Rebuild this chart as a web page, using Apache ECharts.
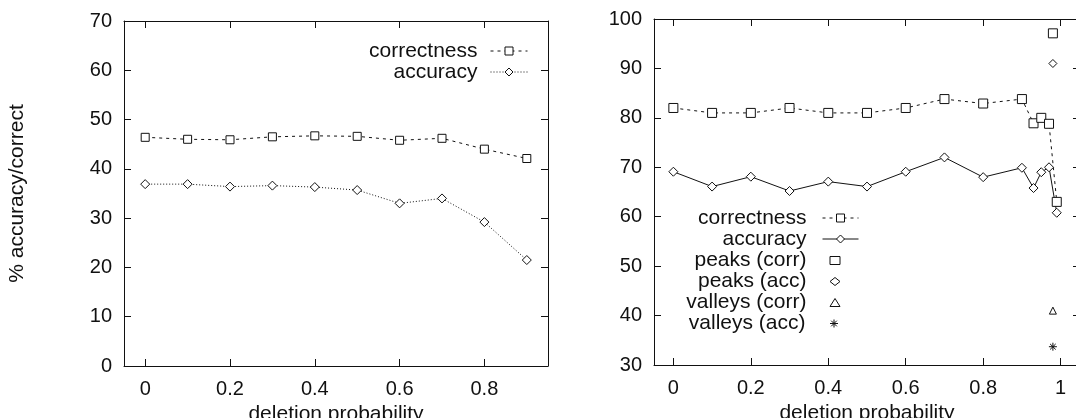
<!DOCTYPE html>
<html>
<head>
<meta charset="utf-8">
<script src="https://cdn.jsdelivr.net/npm/echarts@6/dist/echarts.min.js"></script>
<style>
  html, body { margin: 0; padding: 0; background: #fff; }
  #chart { width: 1076px; height: 418px; }
</style>
</head>
<body>
<div id="chart"></div>
<script>
// Left panel: deletion probability vs. correctness / accuracy (%)
const probLeft = [0, 0.1, 0.2, 0.3, 0.4, 0.5, 0.6, 0.7, 0.8, 0.9];
const corrLeft = [46.4, 46.0, 45.9, 46.5, 46.7, 46.6, 45.8, 46.2, 44.0, 42.1];
const accLeft  = [36.9, 36.9, 36.4, 36.6, 36.3, 35.7, 33.0, 34.0, 29.2, 21.5];

// Right panel: finer sampling near 1
const probRight = [0, 0.1, 0.2, 0.3, 0.4, 0.5, 0.6, 0.7, 0.8, 0.9, 0.93, 0.95, 0.97, 0.99];
const corrRight = [82, 81, 81, 82, 81, 81, 82, 83.8, 82.9, 83.8, 78.9, 80.0, 78.8, 63.0];
const accRight  = [69.1, 66.1, 68.1, 65.2, 67.1, 66.1, 69.1, 72.0, 68.0, 69.9, 65.8, 69.0, 70.0, 60.8];

// Peak / valley reference points
const peakCorr   = [[0.98, 97.1]];
const peakAcc    = [[0.98, 91.0]];
const valleyCorr = [[0.98, 41.0]];
const valleyAcc  = [[0.98, 33.7]];

// Tick positions
const xTicksLeft  = [0, 0.2, 0.4, 0.6, 0.8];
const xTicksRight = [0, 0.2, 0.4, 0.6, 0.8, 1];

const INK = '#111';
const FONT = '"Liberation Sans", Arial, Helvetica, sans-serif';
const zip = (xs, ys) => xs.map((x, i) => [x, ys[i]]);

function xAxes(gridIndex, min, max, ticks) {
  const base = {
    type: 'value', gridIndex, min, max,
    axisLine: { show: true, onZero: false, lineStyle: { color: INK, width: 1 } },
    axisTick: { show: true, inside: true, length: 7, customValues: ticks, lineStyle: { color: INK, width: 1 } },
    splitLine: { show: false }
  };
  return [
    Object.assign({}, base, {
      position: 'bottom',
      axisLabel: { customValues: ticks, margin: 13, fontSize: 20, color: INK, fontFamily: FONT,
                   showMinLabel: true, showMaxLabel: true, hideOverlap: false },
      name: 'deletion probability', nameLocation: 'middle', nameGap: 36,
      nameTextStyle: { fontSize: 21, color: INK, fontFamily: FONT }
    }),
    Object.assign({}, base, { position: 'top', axisLabel: { show: false } })
  ];
}

function yAxes(gridIndex, min, max, name) {
  const base = {
    type: 'value', gridIndex, min, max, interval: 10,
    axisLine: { show: true, onZero: false, lineStyle: { color: INK, width: 1 } },
    axisTick: { show: true, inside: true, length: 7, lineStyle: { color: INK, width: 1 } },
    splitLine: { show: false }
  };
  const left = Object.assign({}, base, {
    position: 'left',
    axisLabel: { margin: 12, fontSize: 20, color: INK, fontFamily: FONT }
  });
  if (name) {
    Object.assign(left, {
      name, nameLocation: 'middle', nameGap: 96, nameRotate: 90,
      nameTextStyle: { fontSize: 21, color: INK, fontFamily: FONT }
    });
  }
  return [left, Object.assign({}, base, { position: 'right', axisLabel: { show: false } })];
}

const openMark = { color: '#fff', borderColor: INK, borderWidth: 1, opacity: 1 };

function lineSeries(name, x, y, xi, symbol, size, dash) {
  return {
    name, type: 'line', xAxisIndex: xi, yAxisIndex: xi,
    data: zip(x, y), symbol, symbolSize: size,
    lineStyle: { color: INK, width: 1, type: dash },
    itemStyle: openMark, emphasis: { disabled: true }, z: 3
  };
}

function pointSeries(name, data, symbol, size, style) {
  return {
    name, type: 'scatter', xAxisIndex: 2, yAxisIndex: 2,
    data, symbol, symbolSize: size,
    itemStyle: style || openMark, emphasis: { disabled: true }
  };
}

const star = 'path://M0,5L10,5M5,0L5,10M1.5,1.5L8.5,8.5M8.5,1.5L1.5,8.5';

// Series names carry a panel prefix so each legend picks its own line style
const label = name => name.replace(/^[LR]:/, '');

function legendItem(name, top, right, itemWidth, itemHeight, pad) {
  return {
    data: [name], orient: 'vertical', align: 'right', top, right,
    itemWidth, itemHeight, padding: 0, selectedMode: false,
    formatter: label,
    itemStyle: { borderWidth: 1 },
    lineStyle: { width: 1 },
    textStyle: { fontSize: 21, color: INK, fontFamily: FONT, padding: [0, pad, 0, 0] }
  };
}

const chart = echarts.init(document.getElementById('chart'), null, { renderer: 'canvas' });
chart.setOption({
  animation: false,
  backgroundColor: '#fff',
  grid: [
    { left: 124, width: 424, top: 21, bottom: 52, outerBoundsMode: 'none', containLabel: false },
    { left: 654, width: 426, top: 19, bottom: 53, outerBoundsMode: 'none', containLabel: false }
  ],
  xAxis: [...xAxes(0, -0.05, 0.95, xTicksLeft), ...xAxes(1, -0.05, 1.05, xTicksRight)],
  yAxis: [...yAxes(0, 0, 70, '% accuracy/correct'), ...yAxes(1, 30, 100, null)],
  legend: [
    legendItem('L:correctness', 40.5, 548, 37, 10, 8),
    legendItem('L:accuracy', 61.5, 548, 37, 10, 8),
    legendItem('R:correctness', 207.5, 217, 36, 10, 11),
    legendItem('R:accuracy', 228.5, 217, 36, 10, 11),
    legendItem('R:peaks (corr)', 250, 235.5, 10, 8, 18.5),
    legendItem('R:peaks (acc)', 271, 235.5, 10, 8, 18.5),
    legendItem('R:valleys (corr)', 292, 235.5, 10, 8, 18.5),
    legendItem('R:valleys (acc)', 313, 235.5, 10, 8, 18.5)
  ],
  series: [
    lineSeries('L:correctness', probLeft, corrLeft, 0, 'rect', 8, [3, 4]),
    lineSeries('L:accuracy', probLeft, accLeft, 0, 'diamond', 9, [1, 2]),
    lineSeries('R:correctness', probRight, corrRight, 2, 'rect', 9, [3, 4]),
    lineSeries('R:accuracy', probRight, accRight, 2, 'diamond', 9, 'solid'),
    pointSeries('R:peaks (corr)', peakCorr, 'rect', 9),
    pointSeries('R:peaks (acc)', peakAcc, 'diamond', 8),
    pointSeries('R:valleys (corr)', valleyCorr, 'triangle', 7),
    pointSeries('R:valleys (acc)', valleyAcc, star, 8, { color: 'none', borderColor: INK, borderWidth: 1, opacity: 1 })
  ]
});
</script>
</body>
</html>
